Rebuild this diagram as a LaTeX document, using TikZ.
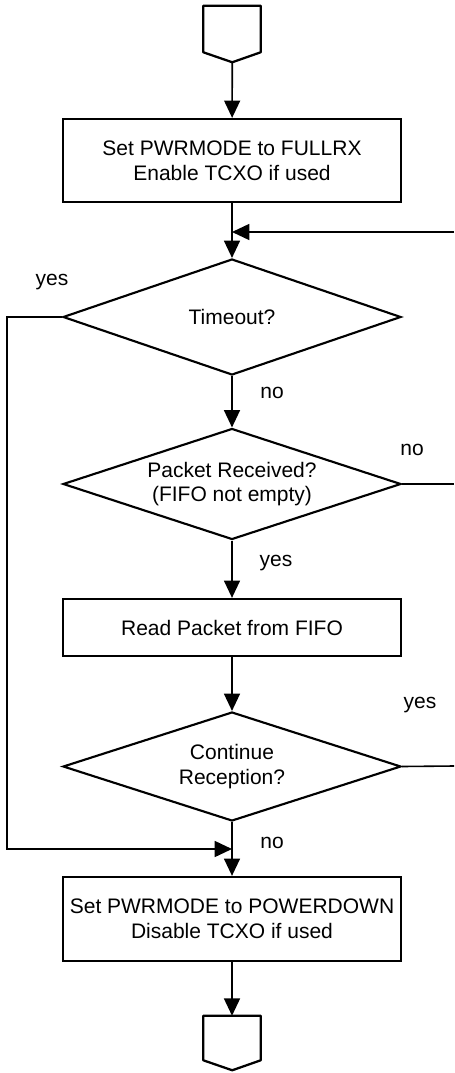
\documentclass[tikz,border=0pt]{standalone}
\usepackage{fontspec}
\setmainfont{Liberation Sans}
\usetikzlibrary{shapes.geometric, arrows.meta, positioning}

\tikzset{
  procbox/.style={draw, line width=1.7pt, minimum width=253.5pt, align=center, inner sep=0pt},
  decision/.style={draw, diamond, aspect=3, line width=1.6pt, minimum width=253.5pt, align=center, inner sep=0pt},
  offpage/.style={minimum width=42.75pt, inner sep=0pt},
  flow/.style={line width=1.2pt, -{Triangle[length=13pt,width=12pt]}},
  plainline/.style={line width=1.2pt},
  lbl/.style={inner sep=0pt},
}

\begin{document}
\begin{tikzpicture}[x=0.75pt, y=-0.75pt, every node/.style={font=\fontsize{15.75}{18.5}\selectfont}]
    \useasboundingbox (0,0) rectangle (454,1073);
    % off-page connector, top
    \node[offpage, minimum height=34.5pt] (start) at (232,29) {};
    \draw[line width=1.7pt, line join=round] (start.north west) -- (start.north east) -- (start.south east)
        -- ++(-28.5,10) coordinate (starttip) -- (start.south west) -- cycle;

    \node[procbox, minimum height=62.25pt] (setrx) at (232,160.5) {Set PWRMODE to FULLRX\\Enable TCXO if used};
    \coordinate (loopjoin) at (232,232);
    \node[decision, minimum height=87pt] (timeout) at (232,317) {Timeout?};
    \node[decision, minimum height=83.25pt] (pktrx) at (232,484) {Packet Received?\\(FIFO not empty)};
    \node[procbox, minimum height=42.75pt] (readpkt) at (232,627.5) {Read Packet from FIFO};
    \node[decision, minimum height=81.75pt] (contrx) at (232,766.5) {Continue\\Reception?};
    \coordinate (exitjoin) at (232,849);
    \node[procbox, minimum height=63pt] (setpd) at (232,919) {Set PWRMODE to POWERDOWN\\Disable TCXO if used};

    % off-page connector, bottom
    \node[offpage, minimum height=33pt] (stop) at (232,1038) {};
    \draw[line width=1.7pt, line join=round] (stop.north west) -- (stop.north east) -- (stop.south east)
        -- ++(-28.5,10) -- (stop.south west) -- cycle;

    % loose ends at the right border
    \coordinate (loopright) at (454,232);
    \coordinate (pktout) at (454,484);
    \coordinate (contout) at (454,766);
    \coordinate (leftrail) at (7,849);

    % connectors
    \draw[flow] (starttip) -- (setrx);
    \draw[flow] (setrx) -- (timeout);
    \draw[flow] (loopright) -- (loopjoin);
    \draw[flow] (timeout) -- (pktrx);
    \draw[flow] (pktrx) -- (readpkt);
    \draw[flow] (readpkt) -- (contrx);
    \draw[flow] (contrx) -- (setpd);
    \draw[flow] (setpd) -- (stop);
    \draw[flow] (timeout.west) -| (leftrail) -- (exitjoin);
    \draw[plainline] (pktrx.east) -- (pktout);
    \draw[plainline] (contrx.east) -- (contout);

    % branch labels
    \node[lbl] (yestimeout) at (52,282) {yes};
    \node[lbl] (notimeout) at (272,393) {no};
    \node[lbl] (nopkt) at (412,450) {no};
    \node[lbl] (yespkt) at (276,563) {yes};
    \node[lbl] (yescont) at (420,705) {yes};
    \node[lbl] (nocont) at (272,843) {no};
\end{tikzpicture}
\end{document}
